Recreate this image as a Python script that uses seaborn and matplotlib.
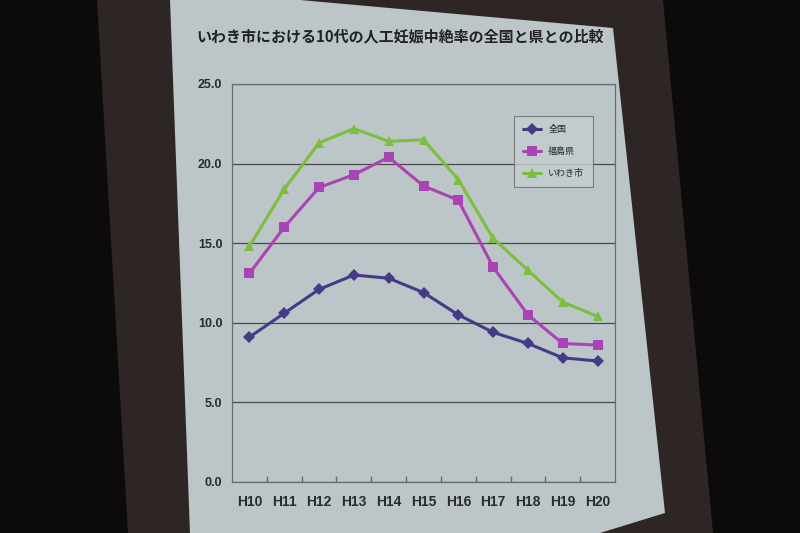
import matplotlib
matplotlib.use("Agg")
import matplotlib.pyplot as plt
import seaborn as sns
import pandas as pd
from matplotlib.patches import Polygon
from matplotlib.ticker import FixedLocator

# ---- data ----
years = ["H10", "H11", "H12", "H13", "H14", "H15", "H16", "H17", "H18", "H19", "H20"]
national = [9.1, 10.6, 12.1, 13.0, 12.8, 11.9, 10.5, 9.4, 8.7, 7.8, 7.6]
fukushima = [13.1, 16.0, 18.5, 19.3, 20.4, 18.6, 17.7, 13.5, 10.5, 8.7, 8.6]
iwaki = [14.8, 18.4, 21.3, 22.2, 21.4, 21.5, 19.0, 15.3, 13.3, 11.3, 10.4]
series_names = ["全国", "福島県", "いわき市"]
title = "いわき市における10代の人工妊娠中絶率の全国と県との比較"
y_ticks = [0, 5, 10, 15, 20, 25]

df = pd.DataFrame({
    "year": years * 3,
    "value": national + fukushima + iwaki,
    "series": [series_names[0]] * len(years) + [series_names[1]] * len(years) + [series_names[2]] * len(years),
})

sns.set_theme(style="white")
plt.rcParams["font.family"] = ["Liberation Sans", "Noto Sans CJK JP", "DejaVu Sans"]

W, H = 800, 533
fig = plt.figure(figsize=(8, 5.33), dpi=100)
fig.patch.set_facecolor("#0c0a0a")

def fp(pts):
    return [(x / W, 1 - y / H) for x, y in pts]

# projection screen (dark frame) and slide
fig.patches.append(Polygon(fp([(97, 0), (663, 0), (713, 533), (128, 533)]),
                           closed=True, transform=fig.transFigure,
                           facecolor="#2e2525", edgecolor="none", zorder=0))
fig.patches.append(Polygon(fp([(170, 0), (300, 0), (613, 28), (665, 513), (600, 533), (190, 533)]),
                           closed=True, transform=fig.transFigure,
                           facecolor="#bcc6c8", edgecolor="none", zorder=1))

ax = fig.add_axes([232 / W, 1 - 482 / H, (615 - 232) / W, (482 - 84) / H])
ax.set_facecolor("none")
ax.set_zorder(3)

palette = {"全国": "#463a86", "福島県": "#a844b4", "いわき市": "#7bbf3e"}
markers = {"全国": "D", "福島県": "s", "いわき市": "^"}

sns.lineplot(data=df, x="year", y="value", hue="series", style="series",
             palette=palette, markers=markers, dashes=False, linewidth=2.2,
             markersize=6.5, markeredgewidth=0, ax=ax, sort=False, legend="full")

ax.set_xlim(-0.5, len(years) - 0.5)
ax.set_ylim(0, 25)
ax.yaxis.set_major_locator(FixedLocator(y_ticks))
ax.set_yticklabels([f"{v:.1f}" for v in y_ticks])
ax.set_xlabel("")
ax.set_ylabel("")
ax.grid(axis="y", color="#4a4a4a", linewidth=0.9)
ax.grid(axis="x", visible=False)
for s in ax.spines.values():
    s.set_color("#6a6a6a")
    s.set_linewidth(0.9)

ax.set_xticks(range(len(years)))
ax.set_xticklabels(years, fontsize=10, fontweight="bold", color="#2b2b2b")
ax.set_xticks([i + 0.5 for i in range(len(years) - 1)], minor=True)
ax.tick_params(axis="x", which="major", length=0, pad=9)
ax.tick_params(axis="x", which="minor", direction="in", length=4, color="#6a6a6a", bottom=True)
ax.tick_params(axis="y", length=0, pad=7, labelsize=9)
for lbl in ax.get_yticklabels():
    lbl.set_fontweight("bold")
    lbl.set_color("#2b2b2b")

leg = ax.legend(loc="upper right", bbox_to_anchor=(0.955, 0.93),
                frameon=True, fancybox=False, edgecolor="#6a6a6a",
                borderpad=1.0, labelspacing=1.4, handlelength=2.0,
                prop={"family": ["Noto Sans CJK JP", "DejaVu Sans"], "size": 6.5})
leg.get_frame().set_facecolor("#c4cdcf")
leg.get_frame().set_linewidth(0.8)

t = fig.text(400 / W, 1 - 36 / H, title, ha="center", va="center", fontsize=10.8,
             fontweight="bold", color="#222222",
             family=["Noto Sans CJK JP", "DejaVu Sans"])
t.set_zorder(4)

fig.savefig("out.png", dpi=100, facecolor=fig.get_facecolor())
